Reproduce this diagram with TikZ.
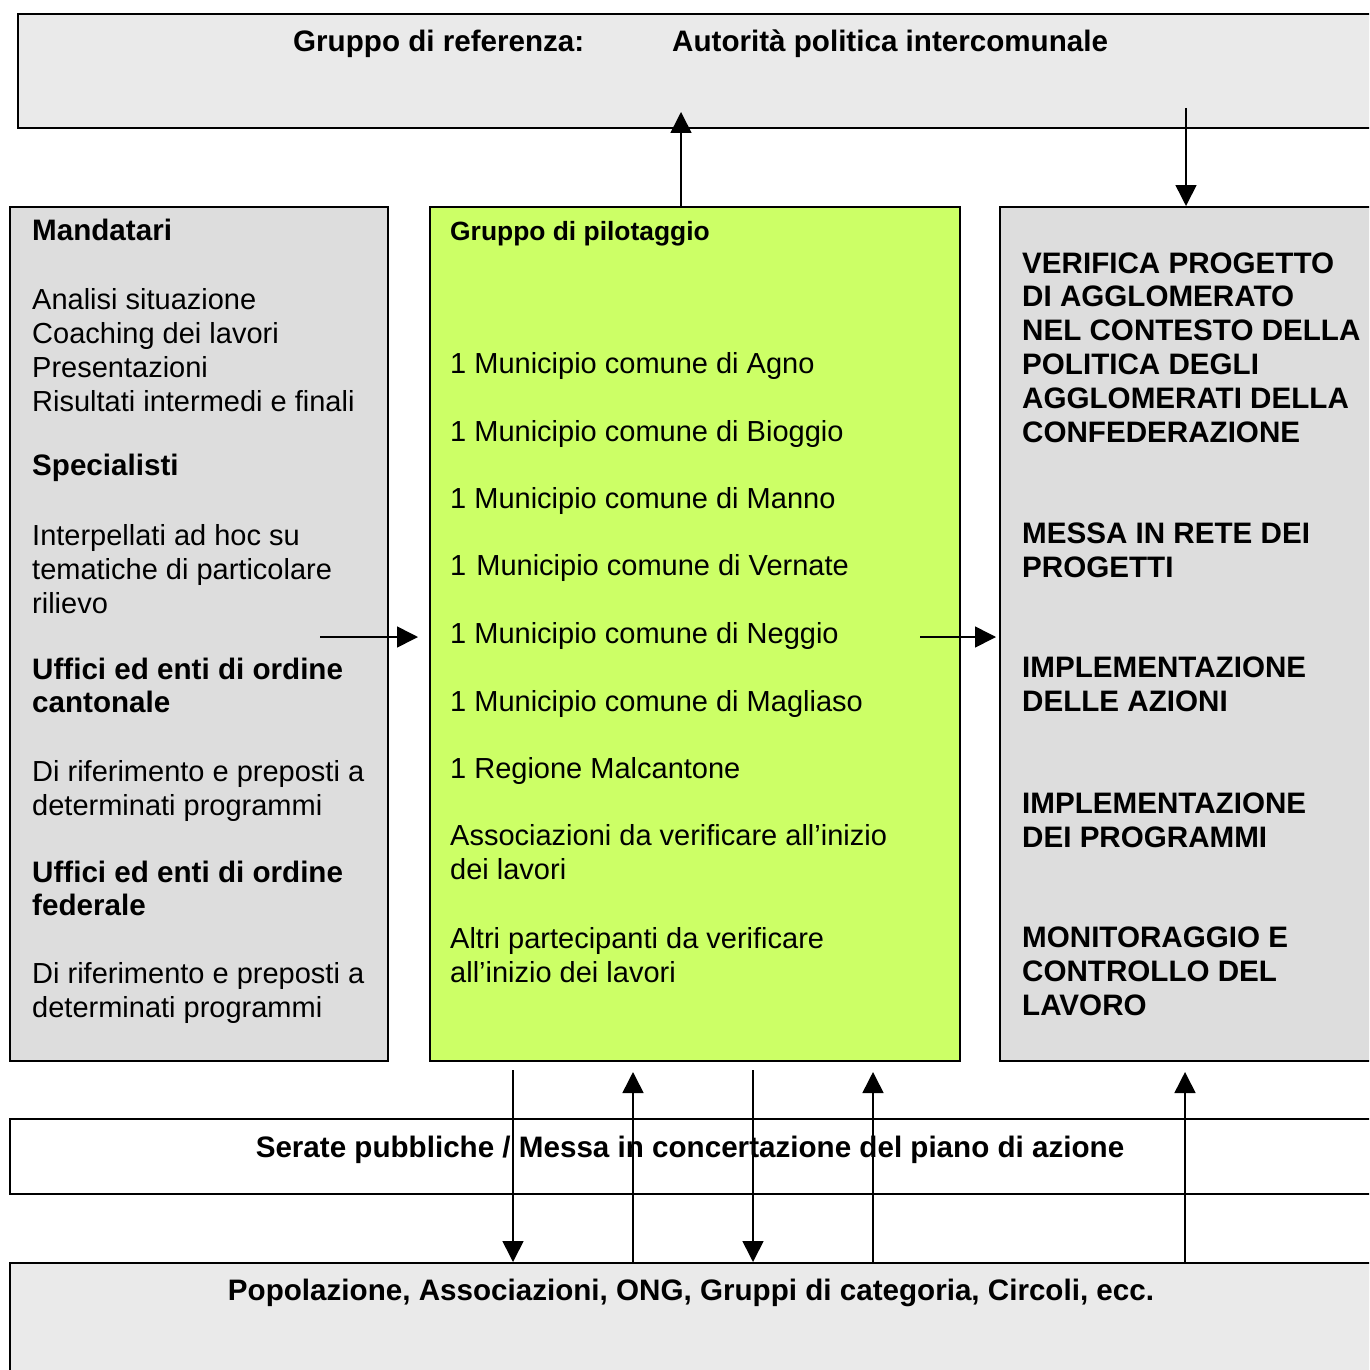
\documentclass[tikz,border=0pt]{standalone}
\usepackage{fontspec}
\setmainfont{Liberation Sans}
\usetikzlibrary{arrows.meta,positioning,calc}

\definecolor{refgrey}{HTML}{EAEAEA}
\definecolor{sidegrey}{HTML}{DDDDDD}
\definecolor{pilotgreen}{HTML}{CCFF66}

\tikzset{
  frame/.style={draw=black,line width=2pt,anchor=north west,inner sep=0pt},
  txt/.style={anchor=base west,align=left,inner sep=0pt,font=\fontsize{29}{34}\selectfont},
  btxt/.style={txt,font=\fontsize{29.6}{33}\selectfont\bfseries},
  capstxt/.style={txt,font=\fontsize{29.6}{33.8}\selectfont\bfseries},
  gtitle/.style={txt,font=\fontsize{26.4}{30}\selectfont\bfseries},
  arr/.style={line width=1.6pt,-{Triangle[length=21pt,width=21pt]}}
}

\begin{document}
\begin{tikzpicture}[x=1pt,y=-1pt]
\useasboundingbox (0,0) rectangle (1369,1370);
\clip (0,0) rectangle (1369,1370);

% boxes
\node[frame,fill=refgrey,minimum width=1400pt,minimum height=114pt] (ref) at (17,13) {};
\node[frame,fill=sidegrey,minimum width=378pt,minimum height=854pt] (mand) at (9,206) {};
\node[frame,fill=pilotgreen,minimum width=530pt,minimum height=854pt] (pilot) at (429,206) {};
\node[frame,fill=sidegrey,minimum width=420pt,minimum height=854pt] (task) at (999,206) {};
\node[frame,fill=white,minimum width=1400pt,minimum height=75pt] (serate) at (9,1118) {};
\node[frame,fill=refgrey,minimum width=1400pt,minimum height=150pt] (pop) at (9,1262) {};

% top (multi-line texts sit on the baseline of their last line)
\node[btxt] (refA) at (293,52) {Gruppo di referenza:};
\node[btxt] (refB) at (672,52) {Autorità politica intercomunale};

% left column
\node[btxt] (mandA) at (32,240) {Mandatari};
\node[txt] (mandB) at (32,411) {Analisi situazione\\Coaching dei lavori\\Presentazioni\\Risultati intermedi e finali};
\node[btxt] (specA) at (32,475) {Specialisti};
\node[txt] (specB) at (32,613) {Interpellati ad hoc su\\tematiche di particolare\\rilievo};
\node[btxt] (cantA) at (32,712) {Uffici ed enti di ordine\\cantonale};
\node[txt] (cantB) at (32,815) {Di riferimento e preposti a\\determinati programmi};
\node[btxt] (fedA) at (32,915) {Uffici ed enti di ordine\\federale};
\node[txt] (fedB) at (32,1017) {Di riferimento e preposti a\\determinati programmi};

% centre column
\node[gtitle] (pilotT) at (450,240) {Gruppo di pilotaggio};
\foreach \y/\name in {373/Agno,441/Bioggio,508/Manno,643/Neggio,711/Magliaso}
  \node[txt] (mun\name) at (450,\y) {1 Municipio comune di \name};
\node[txt] (munVernate) at (450,575) {1\kern2pt\ Municipio comune di Vernate};
\node[txt] (regMal) at (450,778) {1 Regione Malcantone};
\node[txt] (assoc) at (450,879) {Associazioni da verificare all’inizio\\dei lavori};
\node[txt] (altri) at (450,982) {Altri partecipanti da verificare\\all’inizio dei lavori};

% right column
\node[capstxt] (verif) at (1022,442) {VERIFICA PROGETTO\\DI AGGLOMERATO\\NEL CONTESTO DELLA\\POLITICA DEGLI\\AGGLOMERATI DELLA\\CONFEDERAZIONE};
\node[capstxt] (rete) at (1022,577) {MESSA IN RETE DEI\\PROGETTI};
\node[capstxt] (implA) at (1022,711) {IMPLEMENTAZIONE\\DELLE AZIONI};
\node[capstxt] (implB) at (1022,847) {IMPLEMENTAZIONE\\DEI PROGRAMMI};
\node[capstxt] (monit) at (1022,1015) {MONITORAGGIO E\\CONTROLLO DEL\\LAVORO};

% bottom rows
\node[btxt,anchor=base] (serateT) at (690,1157) {Serate pubbliche / Messa in concertazione del piano di azione};
\node[btxt,anchor=base] (popT) at (691,1300) {Popolazione, Associazioni, ONG, Gruppi di categoria, Circoli, ecc.};

% connectors
\coordinate (upTip) at (681,112);
\draw[arr] (pilot.north west -| upTip) -- (upTip);
\coordinate (downTail) at (1186,108);
\draw[arr] (downTail) -- (downTail |- task.north);
\coordinate (inTail) at (320,637);
\coordinate (inTip) at (418,637);
\draw[arr] (inTail) -- (inTip);
\coordinate (outTail) at (920,637);
\coordinate (outTip) at (996,637);
\draw[arr] (outTail) -- (outTip);
\foreach \x in {513,753}{
  \coordinate (d\x) at (\x,1070);
  \draw[arr] (d\x) -- (d\x |- pop.north);
}
\foreach \x in {633,873,1185}{
  \coordinate (u\x) at (\x,1072);
  \draw[arr] (u\x |- pop.north) -- (u\x);
}
\end{tikzpicture}
\end{document}
